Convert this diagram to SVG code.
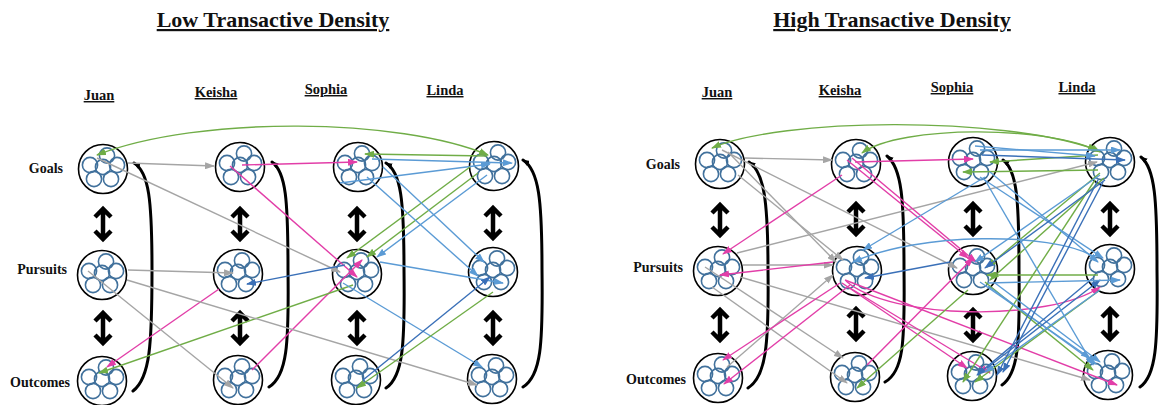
<svg xmlns="http://www.w3.org/2000/svg" xmlns:xlink="http://www.w3.org/1999/xlink" width="1160" height="405" viewBox="0 0 1160 405">
<style>
text{font-family:"Liberation Serif","Times New Roman",serif;font-weight:bold;fill:#111}
.title{font-size:22px;text-decoration:underline}
.name{font-size:14.5px;text-decoration:underline}
.row{font-size:14px}
.outer{fill:#fff;stroke:#000;stroke-width:1.6}
.pet circle{fill:none;stroke:#41719C;stroke-width:1.6}
.c{fill:none;stroke-width:1.4}
.gy{stroke:#A5A5A5;marker-end:url(#mgy)}
.pk{stroke:#E23EA8;marker-end:url(#mpk)}
.gn{stroke:#70AD47;marker-end:url(#mgn)}
.lb{stroke:#5B9BD5;marker-end:url(#mlb)}
.db{stroke:#3A70B8;marker-end:url(#mdb)}
.both{marker-start:url(#mgn)}
.dbl{fill:none;stroke:#000;stroke-width:4.5;stroke-linejoin:miter}
.br{fill:none;stroke:#000;stroke-width:3;stroke-linecap:round}
</style>
<defs>
<marker id="mgy" viewBox="0 0 10 7" refX="9" refY="3.5" markerWidth="10" markerHeight="7" markerUnits="userSpaceOnUse" orient="auto-start-reverse"><path d="M0,0L10,3.5L0,7z" fill="#A5A5A5"/></marker>
<marker id="mpk" viewBox="0 0 10 7" refX="9" refY="3.5" markerWidth="10" markerHeight="7" markerUnits="userSpaceOnUse" orient="auto-start-reverse"><path d="M0,0L10,3.5L0,7z" fill="#E23EA8"/></marker>
<marker id="mgn" viewBox="0 0 10 7" refX="9" refY="3.5" markerWidth="10" markerHeight="7" markerUnits="userSpaceOnUse" orient="auto-start-reverse"><path d="M0,0L10,3.5L0,7z" fill="#70AD47"/></marker>
<marker id="mlb" viewBox="0 0 10 7" refX="9" refY="3.5" markerWidth="10" markerHeight="7" markerUnits="userSpaceOnUse" orient="auto-start-reverse"><path d="M0,0L10,3.5L0,7z" fill="#5B9BD5"/></marker>
<marker id="mdb" viewBox="0 0 10 7" refX="9" refY="3.5" markerWidth="10" markerHeight="7" markerUnits="userSpaceOnUse" orient="auto-start-reverse"><path d="M0,0L10,3.5L0,7z" fill="#3A70B8"/></marker>
<marker id="mbk" viewBox="0 0 10 8" refX="9" refY="4" markerWidth="7" markerHeight="6" markerUnits="userSpaceOnUse" orient="auto-start-reverse"><path d="M0,0L10,4L0,8z" fill="#000"/></marker>
<g id="pet" class="pet">
<circle cx="4" cy="-13.5" r="7.6"/><circle cx="-13" cy="-4" r="7.6"/><circle cx="0" cy="-2" r="7.6"/><circle cx="14" cy="-4" r="7.6"/><circle cx="-9" cy="10" r="7.6"/><circle cx="8" cy="10" r="7.6"/>
</g>
<path id="da" class="dbl" d="M0,-15V15M-8,-7L0,-15L8,-7M-8,7L0,15L8,7"/>
</defs>

<!-- Titles and labels -->
<text class="title" x="273" y="27" text-anchor="middle">Low Transactive Density</text>
<text class="title" x="892" y="27" text-anchor="middle">High Transactive Density</text>
<g id="names-left">
<text class="name" x="99" y="100" text-anchor="middle">Juan</text>
<text class="name" x="216" y="97" text-anchor="middle">Keisha</text>
<text class="name" x="326" y="94" text-anchor="middle">Sophia</text>
<text class="name" x="445" y="95" text-anchor="middle">Linda</text>
</g>
<g id="names-right">
<text class="name" x="717" y="97" text-anchor="middle">Juan</text>
<text class="name" x="840" y="95" text-anchor="middle">Keisha</text>
<text class="name" x="952" y="92" text-anchor="middle">Sophia</text>
<text class="name" x="1077" y="92" text-anchor="middle">Linda</text>
</g>
<g id="rows-left">
<text class="row" x="63" y="173" text-anchor="end">Goals</text>
<text class="row" x="67" y="274" text-anchor="end">Pursuits</text>
<text class="row" x="70" y="387" text-anchor="end">Outcomes</text>
</g>
<g id="rows-right">
<text class="row" x="680" y="169" text-anchor="end">Goals</text>
<text class="row" x="683" y="272" text-anchor="end">Pursuits</text>
<text class="row" x="686" y="384" text-anchor="end">Outcomes</text>
</g>

<!-- Left panel nodes -->
<g id="L-juan-goals"><circle class="outer" cx="103" cy="169" r="24.5"/><use href="#pet" x="103" y="169"/></g>
<g id="L-keisha-goals"><circle class="outer" cx="240" cy="167" r="24.5"/><use href="#pet" x="240" y="167"/></g>
<g id="L-sophia-goals"><circle class="outer" cx="358" cy="167" r="24.5"/><use href="#pet" x="358" y="167"/></g>
<g id="L-linda-goals"><circle class="outer" cx="494" cy="166" r="24.5"/><use href="#pet" x="494" y="166"/></g>
<g id="L-juan-pursuits"><circle class="outer" cx="102" cy="275" r="24.5"/><use href="#pet" x="102" y="275"/></g>
<g id="L-keisha-pursuits"><circle class="outer" cx="238" cy="274" r="24.5"/><use href="#pet" x="238" y="274"/></g>
<g id="L-sophia-pursuits"><circle class="outer" cx="357" cy="274" r="24.5"/><use href="#pet" x="357" y="274"/></g>
<g id="L-linda-pursuits"><circle class="outer" cx="493" cy="272" r="24.5"/><use href="#pet" x="493" y="272"/></g>
<g id="L-juan-outcomes"><circle class="outer" cx="102" cy="381" r="24.5"/><use href="#pet" x="102" y="381"/></g>
<g id="L-keisha-outcomes"><circle class="outer" cx="238" cy="380" r="24.5"/><use href="#pet" x="238" y="380"/></g>
<g id="L-sophia-outcomes"><circle class="outer" cx="356" cy="380" r="24.5"/><use href="#pet" x="356" y="380"/></g>
<g id="L-linda-outcomes"><circle class="outer" cx="492" cy="379" r="24.5"/><use href="#pet" x="492" y="379"/></g>

<!-- Right panel nodes -->
<g id="R-juan-goals"><circle class="outer" cx="720" cy="164" r="24.5"/><use href="#pet" x="720" y="164"/></g>
<g id="R-keisha-goals"><circle class="outer" cx="856" cy="164" r="24.5"/><use href="#pet" x="856" y="164"/></g>
<g id="R-sophia-goals"><circle class="outer" cx="973" cy="162" r="24.5"/><use href="#pet" x="973" y="162"/></g>
<g id="R-linda-goals"><circle class="outer" cx="1110" cy="162" r="24.5"/><use href="#pet" x="1110" y="162"/></g>
<g id="R-juan-pursuits"><circle class="outer" cx="718" cy="271" r="24.5"/><use href="#pet" x="718" y="271"/></g>
<g id="R-keisha-pursuits"><circle class="outer" cx="857" cy="271" r="24.5"/><use href="#pet" x="857" y="271"/></g>
<g id="R-sophia-pursuits"><circle class="outer" cx="973" cy="270" r="24.5"/><use href="#pet" x="973" y="270"/></g>
<g id="R-linda-pursuits"><circle class="outer" cx="1110" cy="269" r="24.5"/><use href="#pet" x="1110" y="269"/></g>
<g id="R-juan-outcomes"><circle class="outer" cx="718" cy="378" r="24.5"/><use href="#pet" x="718" y="378"/></g>
<g id="R-keisha-outcomes"><circle class="outer" cx="855" cy="377" r="24.5"/><use href="#pet" x="855" y="377"/></g>
<g id="R-sophia-outcomes"><circle class="outer" cx="972" cy="376" r="24.5"/><use href="#pet" x="972" y="376"/></g>
<g id="R-linda-outcomes"><circle class="outer" cx="1108" cy="375" r="24.5"/><use href="#pet" x="1108" y="375"/></g>

<!-- Double arrows between rows -->
<g id="double-arrows">
<use href="#da" x="103" y="224"/><use href="#da" x="103" y="328"/>
<use href="#da" x="240" y="224"/><use href="#da" x="240" y="328"/>
<use href="#da" x="357" y="224"/><use href="#da" x="357" y="328"/>
<use href="#da" x="493" y="223"/><use href="#da" x="493" y="328"/>
<use href="#da" x="720" y="220"/><use href="#da" x="720" y="325"/>
<use href="#da" x="856" y="219"/><use href="#da" x="856" y="324"/>
<use href="#da" x="973" y="219"/><use href="#da" x="973" y="325"/>
<use href="#da" x="1110" y="219"/><use href="#da" x="1110" y="324"/>
</g>

<!-- Column brackets -->
<g id="brackets">
<path class="br" marker-start="url(#mbk)" d="M134,163C149,172 152,200 152,270C152,345 150,378 133,391"/>
<path class="br" marker-start="url(#mbk)" d="M272,162C286,172 288,200 288,270C289,345 287,376 269,387"/>
<path class="br" marker-start="url(#mbk)" d="M386,163C401,172 404,200 404,270C405,345 403,377 386,388"/>
<path class="br" marker-start="url(#mbk)" d="M523,160C539,170 542,200 542,270C543,345 541,376 523,387"/>
<path class="br" marker-start="url(#mbk)" d="M749,162C764,172 768,200 768,270C769,345 766,377 748,388"/>
<path class="br" marker-start="url(#mbk)" d="M887,156C902,168 904,200 904,270C905,345 903,372 885,382"/>
<path class="br" marker-start="url(#mbk)" d="M1003,160C1017,170 1019,200 1019,270C1020,345 1018,374 1002,385"/>
<path class="br" marker-start="url(#mbk)" d="M1141,157C1155,168 1157,200 1157,270C1158,345 1156,376 1140,387"/>
</g>

<!-- Connectors -->
<g id="connectors-left">
<path class="c gn both" d="M97,155C200,115 400,118 488,155"/>
<path class="c gy" d="M128,163L214,166"/>
<path class="c gy" d="M97,158L340,272"/>
<path class="c pk" d="M242,165L357,162"/>
<path class="c pk" d="M230,166L357,277"/>
<path class="c pk" d="M252,370L362,260"/>
<path class="c pk" d="M219,289L107,367"/>
<path class="c gn" d="M353,285L99,373"/>
<path class="c gy" d="M128,270L233,273"/>
<path class="c gy" d="M127,280L477,385"/>
<path class="c gy" d="M88,271L233,388"/>
<path class="c db" d="M345,265L247,284"/>
<path class="c gn" d="M487,156L365,154"/>
<path class="c lb" d="M372,159L512,163"/>
<path class="c lb" d="M340,183L490,164"/>
<path class="c gn" d="M470,167L347,258"/>
<path class="c gn" d="M478,173L367,257"/>
<path class="c lb" d="M487,175L377,257"/>
<path class="c lb" d="M383,167L484,262"/>
<path class="c lb" d="M367,177L478,276"/>
<path class="c lb" d="M380,262L503,283"/>
<path class="c lb" d="M343,283L482,367"/>
<path class="c db" d="M363,380L490,277"/>
<path class="c gn" d="M493,292L357,388"/>
</g>

<g id="connectors-right">
<path class="c gn both" d="M712,148C780,118 1000,115 1097,150"/>
<path class="c gn both" d="M862,153C900,125 1050,125 1100,152"/>
<path class="c gy" d="M745,158L832,160"/>
<path class="c gy" d="M728,152L836,262"/>
<path class="c gy" d="M738,175L843,260"/>
<path class="c gy" d="M722,150L957,268"/>
<path class="c gy" d="M743,265L833,265"/>
<path class="c gy" d="M705,267L843,358"/>
<path class="c gy" d="M712,287L847,383"/>
<path class="c gy" d="M727,367L833,275"/>
<path class="c gy" d="M737,253L1097,162"/>
<path class="c gy" d="M740,277L1090,380"/>
<path class="c pk" d="M855,162L973,159"/>
<path class="c pk" d="M842,175L723,254"/>
<path class="c pk" d="M847,160L968,258"/>
<path class="c pk" d="M852,158L976,262"/>
<path class="c pk" d="M833,262L720,275"/>
<path class="c pk" d="M840,283L723,360"/>
<path class="c pk" d="M850,285L724,384"/>
<path class="c pk" d="M842,283L967,368"/>
<path class="c pk" d="M850,288L990,373"/>
<path class="c pk" d="M845,280L1117,385"/>
<path class="c pk" d="M846,281C890,320 1050,322 1100,287"/>
<path class="c pk" d="M867,365L973,258"/>
<path class="c gn" d="M1098,155L990,162"/>
<path class="c gn" d="M1098,170L963,172"/>
<path class="c gn" d="M1100,173L987,267"/>
<path class="c gn" d="M1104,178L990,280"/>
<path class="c gn" d="M1095,180L963,382"/>
<path class="c gn" d="M1098,275L987,275"/>
<path class="c gn" d="M1100,290L975,382"/>
<path class="c gn" d="M968,290L857,388"/>
<path class="c gn" d="M985,282L1093,370"/>
<path class="c lb" d="M980,150L1120,150"/>
<path class="c lb" d="M975,146L1095,156"/>
<path class="c db" d="M982,155L1125,160"/>
<path class="c lb" d="M980,177L1103,258"/>
<path class="c lb" d="M990,172L1098,262"/>
<path class="c lb" d="M1100,175L975,262"/>
<path class="c db" d="M1105,180L985,268"/>
<path class="c lb" d="M985,177L863,250"/>
<path class="c lb" d="M1093,256C1050,232 920,232 853,262"/>
<path class="c db" d="M950,262L865,278"/>
<path class="c lb" d="M980,282L1090,358"/>
<path class="c lb" d="M988,286L1096,364"/>
<path class="c lb" d="M995,283L1100,362"/>
<path class="c db" d="M1093,278L977,375"/>
<path class="c lb" d="M1100,290L985,372"/>
<path class="c db" d="M987,368L1100,280"/>
<path class="c lb" d="M988,283L1120,280"/>
<path class="c lb" d="M985,180L1093,365"/>
<path class="c db" d="M1098,180L997,375"/>
<path class="c db" d="M1103,182L1003,372"/>
</g>
</svg>
